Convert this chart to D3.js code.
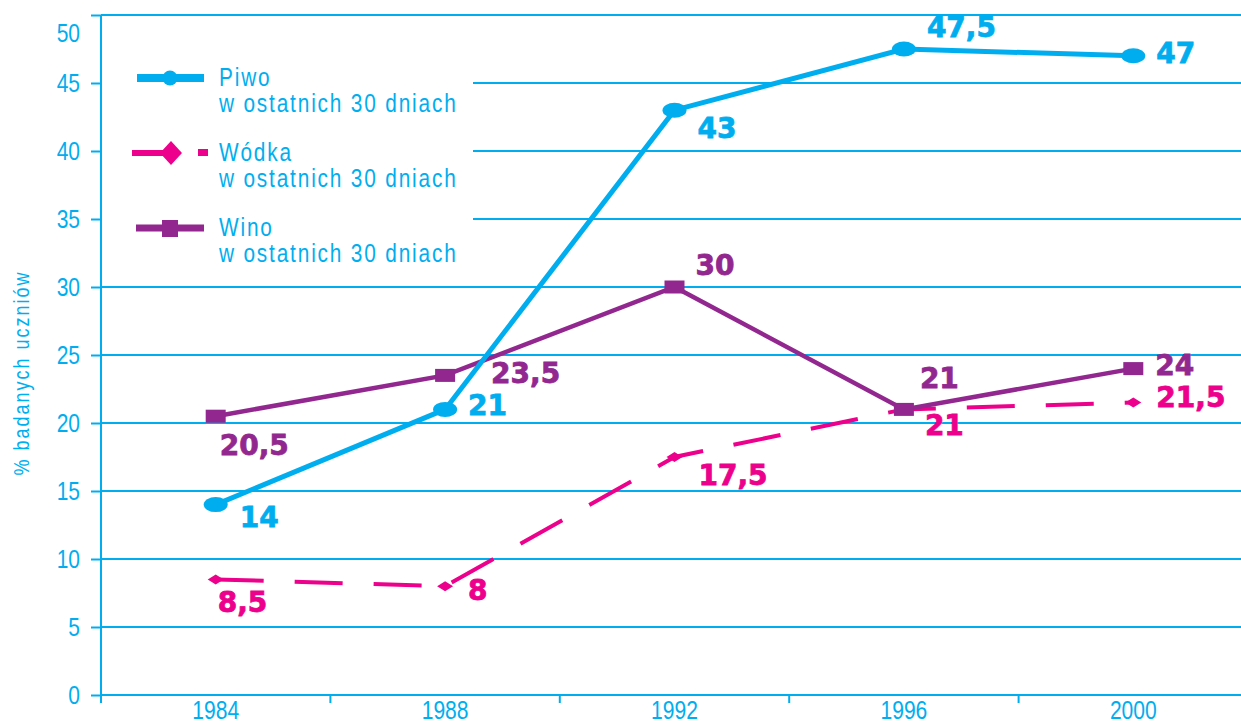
<!DOCTYPE html>
<html lang="pl">
<head>
	<meta charset="utf-8">
	<title>Piwo, wódka, wino</title>
	<style>
		body { margin: 0; background: #fff; }
		svg text { font-family: "Liberation Sans", Arial, sans-serif; }
		.val { font-family: "DejaVu Sans", sans-serif !important; font-weight: bold; font-size: 28px; stroke-width: 0.8px; }
	</style>
</head>
<body>
	<svg id="chart" width="1241" height="725"></svg>

	<script src="https://d3js.org/d3.v7.min.js"></script>
	<script>
		"use strict";

		var years = ["1984", "1988", "1992", "1996", "2000"];
		var yTicks = [0, 5, 10, 15, 20, 25, 30, 35, 40, 45, 50];

		var piwo  = [14, 21, 43, 47.5, 47];
		var wodka = [8.5, 8, 17.5, 21, 21.5];
		var wino  = [20.5, 23.5, 30, 21, 24];

		var seriesNames = ["Piwo", "Wódka", "Wino"];
		var legendSub = "w ostatnich 30 dniach";

		// where each value label sits relative to its point [dx, dy]
		var piwoLab  = [[24, 22], [23, 6], [23, 28], [23, -12], [23, 7]];
		var wodkaLab = [[2, 33], [23, 14], [24, 28], [21, 26], [23, 4]];
		var winoLab  = [[4, 39], [46, 8], [21, -12], [16, -21], [22, 6]];

		var CYAN = "#00aeef", MAG = "#ec008c", PURP = "#92278f";
		var NARROW = 0.82;  // no condensed font here, so squeeze the glyphs

		var svg = d3.select("#chart");
		var x = d3.scaleBand().domain(years).range([101, 1248]);
		var y = d3.scaleLinear().domain([0, 50]).range([695, 15]);
		var cx = function(d, i){ return x(years[i]) + x.bandwidth() / 2; };

		// squeeze text horizontally, keeping its anchor point where it was
		function condense(sel, k){
			sel.each(function(){
				var t = d3.select(this);
				var tx = +t.attr("x") || 0;
				t.attr("x", tx / k).attr("transform", "scale(" + k + ",1)");
			});
		}

		// gridlines (legend rows leave a gap)
		svg.append("g").selectAll("line")
			.data(yTicks)
			.enter()
			.append("line")
			.attr("x1", function(d){ return (d >= 35 && d <= 45) ? 473 : 101; })
			.attr("x2", 1241)
			.attr("y1", function(d){ return y(d); })
			.attr("y2", function(d){ return y(d); })
			.attr("stroke", CYAN)
			.attr("stroke-width", 2);

		// y axis
		var yAxis = svg.append("g")
			.attr("transform", "translate(101,0)")
			.call(d3.axisLeft(y).tickValues(yTicks).tickSize(10).tickPadding(11)
				.tickFormat(function(d){ return d; }));
		yAxis.select(".domain").remove();
		yAxis.selectAll("line").attr("stroke", CYAN).attr("stroke-width", 2);
		yAxis.selectAll("text")
			.attr("fill", CYAN)
			.style("font-size", "25px")
			.call(condense, 0.84)
			.filter(function(d){ return d === 50; })
			.attr("dy", "1.05em");

		svg.append("line")
			.attr("x1", 101).attr("x2", 101)
			.attr("y1", y(50)).attr("y2", 703)
			.attr("stroke", CYAN).attr("stroke-width", 2);

		// x axis
		var xAxis = svg.append("g")
			.attr("transform", "translate(0,695)")
			.call(d3.axisBottom(x).tickSize(0).tickPadding(6));
		xAxis.select(".domain").remove();
		xAxis.selectAll("text")
			.attr("fill", CYAN)
			.style("font-size", "26px")
			.call(condense, 0.81);

		svg.append("g").selectAll("line")
			.data(years.slice(0, -1))
			.enter()
			.append("line")
			.attr("x1", function(d){ return x(d) + x.bandwidth(); })
			.attr("x2", function(d){ return x(d) + x.bandwidth(); })
			.attr("y1", 695).attr("y2", 703)
			.attr("stroke", CYAN).attr("stroke-width", 2);

		svg.append("text")
			.attr("transform", "translate(29,373) rotate(-90) scale(" + NARROW + ",1)")
			.attr("text-anchor", "middle")
			.attr("fill", CYAN)
			.style("font-size", "22px")
			.style("letter-spacing", "2.4px")
			.text("% badanych uczniów");

		var line = d3.line()
			.x(function(d, i){ return cx(d, i); })
			.y(function(d){ return y(d); });

		// Wódka
		svg.append("path")
			.datum(wodka)
			.attr("d", line)
			.attr("fill", "none")
			.attr("stroke", MAG)
			.attr("stroke-width", 4)
			.attr("stroke-dasharray", "48,31");
		svg.append("g").selectAll("path")
			.data(wodka)
			.enter()
			.append("path")
			.attr("d", "M-8,0L0,-5L8,0L0,5Z")
			.attr("transform", function(d, i){ return "translate(" + cx(d, i) + "," + y(d) + ")"; })
			.attr("fill", MAG);

		// Wino
		svg.append("path")
			.datum(wino)
			.attr("d", line)
			.attr("fill", "none")
			.attr("stroke", PURP)
			.attr("stroke-width", 4.5);
		svg.append("g").selectAll("rect")
			.data(wino)
			.enter()
			.append("rect")
			.attr("x", function(d, i){ return cx(d, i) - 10; })
			.attr("y", function(d){ return y(d) - 6.5; })
			.attr("width", 20)
			.attr("height", 13)
			.attr("fill", PURP);

		// Piwo
		svg.append("path")
			.datum(piwo)
			.attr("d", line)
			.attr("fill", "none")
			.attr("stroke", CYAN)
			.attr("stroke-width", 5);
		svg.append("g").selectAll("ellipse")
			.data(piwo)
			.enter()
			.append("ellipse")
			.attr("cx", function(d, i){ return cx(d, i); })
			.attr("cy", function(d){ return y(d); })
			.attr("rx", 12)
			.attr("ry", 7.5)
			.attr("fill", CYAN);

		// value labels
		function labels(data, offs, color){
			svg.append("g").selectAll("text")
				.data(data)
				.enter()
				.append("text")
				.attr("class", "val")
				.attr("x", function(d, i){ return cx(d, i) + offs[i][0]; })
				.attr("y", function(d, i){ return y(d) + offs[i][1]; })
				.attr("fill", color)
				.attr("stroke", color)
				.text(function(d){ return String(d).replace(".", ","); });
		}
		labels(piwo, piwoLab, CYAN);
		labels(wodka, wodkaLab, MAG);
		labels(wino, winoLab, PURP);

		// legend
		var leg = svg.append("g");
		var legY = [78, 153, 228];

		leg.append("line").attr("x1", 137).attr("x2", 204).attr("y1", legY[0]).attr("y2", legY[0])
			.attr("stroke", CYAN).attr("stroke-width", 8);
		leg.append("circle").attr("cx", 170).attr("cy", legY[0]).attr("r", 7.5).attr("fill", CYAN);

		leg.append("line").attr("x1", 132).attr("x2", 165).attr("y1", legY[1]).attr("y2", legY[1])
			.attr("stroke", MAG).attr("stroke-width", 6);
		leg.append("rect").attr("x", 198).attr("y", legY[1] - 4).attr("width", 10).attr("height", 7).attr("fill", MAG);
		leg.append("path").attr("d", "M-11,0L0,-12L11,0L0,12Z")
			.attr("transform", "translate(171," + legY[1] + ")").attr("fill", MAG);

		leg.append("line").attr("x1", 136).attr("x2", 204).attr("y1", legY[2]).attr("y2", legY[2])
			.attr("stroke", PURP).attr("stroke-width", 7);
		leg.append("rect").attr("x", 162).attr("y", legY[2] - 8).attr("width", 16).attr("height", 17).attr("fill", PURP);

		leg.selectAll("text.name")
			.data(seriesNames)
			.enter()
			.append("text")
			.attr("x", 219)
			.attr("y", function(d, i){ return legY[i] + 8; })
			.attr("fill", CYAN)
			.style("font-size", "26px")
			.style("letter-spacing", "2.3px")
			.text(function(d){ return d; })
			.call(condense, 0.8);
		leg.selectAll("text.sub")
			.data(seriesNames)
			.enter()
			.append("text")
			.attr("x", 219)
			.attr("y", function(d, i){ return legY[i] + 34; })
			.attr("fill", CYAN)
			.style("font-size", "26px")
			.style("letter-spacing", "2.3px")
			.text(legendSub)
			.call(condense, 0.8);
	</script>
</body>
</html>
